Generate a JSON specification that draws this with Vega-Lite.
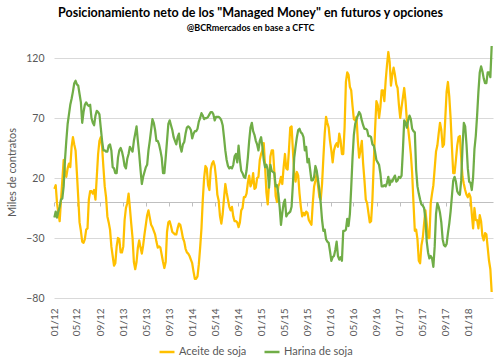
{
"$schema": "https://vega.github.io/schema/vega-lite/v6.json",
"width": 439, "height": 252,
"autosize": {"type": "none"},
"padding": {"left": 54, "top": 46, "right": 7, "bottom": 65},
"background": "white",
"title": {"text": "Posicionamiento neto de los \"Managed Money\" en futuros y opciones", "subtitle": "@BCRmercados en base a CFTC", "anchor": "middle", "dx": -23, "font": "Lato", "fontSize": 12.5, "fontWeight": "bold", "color": "#000000", "subtitleFont": "Lato", "subtitleFontSize": 9, "subtitleFontWeight": "bold", "subtitleColor": "#000000", "subtitlePadding": 4, "offset": 12},
"data": {"values": [
{"d":"2012-01-03","a":11,"h":-13},{"d":"2012-01-10","a":14,"h":-8},{"d":"2012-01-17","a":-1,"h":-13},{"d":"2012-01-24","a":-9,"h":-8},{"d":"2012-01-31","a":-16,"h":-4},
{"d":"2012-02-07","a":2,"h":2},{"d":"2012-02-14","a":18,"h":3},{"d":"2012-02-21","a":35,"h":13},{"d":"2012-02-28","a":25,"h":35},
{"d":"2012-03-06","a":21,"h":51},{"d":"2012-03-13","a":28,"h":65},{"d":"2012-03-20","a":32,"h":73},{"d":"2012-03-27","a":29,"h":81},
{"d":"2012-04-03","a":46,"h":86},{"d":"2012-04-10","a":54,"h":92},{"d":"2012-04-17","a":48,"h":99},{"d":"2012-04-24","a":43,"h":101},
{"d":"2012-05-01","a":24,"h":98},{"d":"2012-05-08","a":4,"h":97},{"d":"2012-05-15","a":-17,"h":90},{"d":"2012-05-22","a":-24,"h":83},{"d":"2012-05-29","a":-33,"h":66},
{"d":"2012-06-05","a":-34,"h":75},{"d":"2012-06-12","a":-31,"h":81},{"d":"2012-06-19","a":-23,"h":83},{"d":"2012-06-26","a":-22,"h":81},
{"d":"2012-07-03","a":2,"h":80},{"d":"2012-07-10","a":9,"h":81},{"d":"2012-07-17","a":9,"h":70},{"d":"2012-07-24","a":7,"h":66},{"d":"2012-07-31","a":10,"h":64},
{"d":"2012-08-07","a":2,"h":72},{"d":"2012-08-14","a":21,"h":76},{"d":"2012-08-21","a":40,"h":75},{"d":"2012-08-28","a":51,"h":73},
{"d":"2012-09-04","a":54,"h":62},{"d":"2012-09-11","a":46,"h":51},{"d":"2012-09-18","a":29,"h":43},{"d":"2012-09-25","a":13,"h":43},
{"d":"2012-10-02","a":4,"h":42},{"d":"2012-10-09","a":-12,"h":42},{"d":"2012-10-16","a":-17,"h":47},{"d":"2012-10-23","a":-23,"h":48},{"d":"2012-10-30","a":-37,"h":43},
{"d":"2012-11-06","a":-45,"h":29},{"d":"2012-11-13","a":-53,"h":28},{"d":"2012-11-20","a":-51,"h":24},{"d":"2012-11-27","a":-37,"h":24},
{"d":"2012-12-04","a":-30,"h":37},{"d":"2012-12-11","a":-31,"h":43},{"d":"2012-12-18","a":-42,"h":45},{"d":"2012-12-25","a":-42,"h":42},
{"d":"2013-01-01","a":-37,"h":37},{"d":"2013-01-08","a":-15,"h":30},{"d":"2013-01-15","a":-5,"h":28},{"d":"2013-01-22","a":-1,"h":36},{"d":"2013-01-29","a":7,"h":40},
{"d":"2013-02-05","a":-5,"h":46},{"d":"2013-02-12","a":-18,"h":44},{"d":"2013-02-19","a":-30,"h":42},{"d":"2013-02-26","a":-50,"h":51},
{"d":"2013-03-05","a":-56,"h":57},{"d":"2013-03-12","a":-50,"h":63},{"d":"2013-03-19","a":-38,"h":51},{"d":"2013-03-26","a":-32,"h":40},
{"d":"2013-04-02","a":-38,"h":27},{"d":"2013-04-09","a":-43,"h":15},{"d":"2013-04-16","a":-36,"h":21},{"d":"2013-04-23","a":-27,"h":25},{"d":"2013-04-30","a":-19,"h":29},
{"d":"2013-05-07","a":-11,"h":31},{"d":"2013-05-14","a":-7,"h":43},{"d":"2013-05-21","a":-13,"h":51},{"d":"2013-05-28","a":-19,"h":60},
{"d":"2013-06-04","a":-21,"h":69},{"d":"2013-06-11","a":-24,"h":66},{"d":"2013-06-18","a":-27,"h":60},{"d":"2013-06-25","a":-33,"h":51},
{"d":"2013-07-02","a":-38,"h":51},{"d":"2013-07-09","a":-37,"h":48},{"d":"2013-07-16","a":-38,"h":43},{"d":"2013-07-23","a":-44,"h":37},{"d":"2013-07-30","a":-50,"h":24},
{"d":"2013-08-06","a":-55,"h":24},{"d":"2013-08-13","a":-50,"h":37},{"d":"2013-08-20","a":-25,"h":51},{"d":"2013-08-27","a":-17,"h":65},
{"d":"2013-09-03","a":-16,"h":68},{"d":"2013-09-10","a":-20,"h":64},{"d":"2013-09-17","a":-25,"h":60},{"d":"2013-09-24","a":-26,"h":54},
{"d":"2013-10-01","a":-27,"h":51},{"d":"2013-10-08","a":-27,"h":48},{"d":"2013-10-15","a":-22,"h":54},{"d":"2013-10-22","a":-18,"h":57},{"d":"2013-10-29","a":-19,"h":46},
{"d":"2013-11-05","a":-24,"h":42},{"d":"2013-11-12","a":-30,"h":48},{"d":"2013-11-19","a":-33,"h":50},{"d":"2013-11-26","a":-39,"h":57},
{"d":"2013-12-03","a":-42,"h":62},{"d":"2013-12-10","a":-43,"h":63},{"d":"2013-12-17","a":-45,"h":62},{"d":"2013-12-24","a":-48,"h":60},{"d":"2013-12-31","a":-51,"h":53},
{"d":"2014-01-07","a":-58,"h":57},{"d":"2014-01-14","a":-64,"h":59},{"d":"2014-01-21","a":-64,"h":59},{"d":"2014-01-28","a":-62,"h":61},
{"d":"2014-02-04","a":-52,"h":67},{"d":"2014-02-11","a":-38,"h":70},{"d":"2014-02-18","a":-22,"h":74},{"d":"2014-02-25","a":2,"h":72},
{"d":"2014-03-04","a":20,"h":69},{"d":"2014-03-11","a":30,"h":70},{"d":"2014-03-18","a":28,"h":70},{"d":"2014-03-25","a":14,"h":71},
{"d":"2014-04-01","a":10,"h":73},{"d":"2014-04-08","a":27,"h":75},{"d":"2014-04-15","a":32,"h":75},{"d":"2014-04-22","a":34,"h":73},{"d":"2014-04-29","a":30,"h":68},
{"d":"2014-05-06","a":20,"h":71},{"d":"2014-05-13","a":6,"h":71},{"d":"2014-05-20","a":1,"h":71},{"d":"2014-05-27","a":-12,"h":70},
{"d":"2014-06-03","a":-18,"h":68},{"d":"2014-06-10","a":-10,"h":64},{"d":"2014-06-17","a":3,"h":54},{"d":"2014-06-24","a":15,"h":43},
{"d":"2014-07-01","a":8,"h":35},{"d":"2014-07-08","a":2,"h":30},{"d":"2014-07-15","a":-4,"h":28},{"d":"2014-07-22","a":-7,"h":29},{"d":"2014-07-29","a":-4,"h":28},
{"d":"2014-08-05","a":-12,"h":31},{"d":"2014-08-12","a":-16,"h":38},{"d":"2014-08-19","a":-16,"h":40},{"d":"2014-08-26","a":-17,"h":33},
{"d":"2014-09-02","a":-21,"h":47},{"d":"2014-09-09","a":-17,"h":35},{"d":"2014-09-16","a":-7,"h":26},{"d":"2014-09-23","a":-5,"h":24},{"d":"2014-09-30","a":4,"h":21},
{"d":"2014-10-07","a":4,"h":20},{"d":"2014-10-14","a":7,"h":26},{"d":"2014-10-21","a":16,"h":37},{"d":"2014-10-28","a":22,"h":51},
{"d":"2014-11-04","a":13,"h":62},{"d":"2014-11-11","a":16,"h":66},{"d":"2014-11-18","a":24,"h":59},{"d":"2014-11-25","a":11,"h":56},
{"d":"2014-12-02","a":12,"h":51},{"d":"2014-12-09","a":20,"h":48},{"d":"2014-12-16","a":21,"h":43},{"d":"2014-12-23","a":35,"h":51},{"d":"2014-12-30","a":40,"h":54},
{"d":"2015-01-06","a":43,"h":46},{"d":"2015-01-13","a":49,"h":35},{"d":"2015-01-20","a":30,"h":29},{"d":"2015-01-27","a":8,"h":31},
{"d":"2015-02-03","a":-2,"h":27},{"d":"2015-02-10","a":15,"h":12},{"d":"2015-02-17","a":38,"h":31},{"d":"2015-02-24","a":43,"h":26},
{"d":"2015-03-03","a":43,"h":25},{"d":"2015-03-10","a":25,"h":24},{"d":"2015-03-17","a":5,"h":13},{"d":"2015-03-24","a":0,"h":14},{"d":"2015-03-31","a":13,"h":7},
{"d":"2015-04-07","a":16,"h":-4},{"d":"2015-04-14","a":21,"h":-19},{"d":"2015-04-21","a":15,"h":-9},{"d":"2015-04-28","a":29,"h":-1},
{"d":"2015-05-05","a":40,"h":2},{"d":"2015-05-12","a":28,"h":-12},{"d":"2015-05-19","a":27,"h":-10},{"d":"2015-05-26","a":43,"h":-9},
{"d":"2015-06-02","a":62,"h":-8},{"d":"2015-06-09","a":63,"h":-4},{"d":"2015-06-16","a":43,"h":15},{"d":"2015-06-23","a":24,"h":37},{"d":"2015-06-30","a":17,"h":46},
{"d":"2015-07-07","a":25,"h":54},{"d":"2015-07-14","a":22,"h":60},{"d":"2015-07-21","a":7,"h":61},{"d":"2015-07-28","a":-4,"h":58},
{"d":"2015-08-04","a":-12,"h":57},{"d":"2015-08-11","a":-9,"h":54},{"d":"2015-08-18","a":-11,"h":43},{"d":"2015-08-25","a":-8,"h":46},
{"d":"2015-09-01","a":-9,"h":33},{"d":"2015-09-08","a":-15,"h":36},{"d":"2015-09-15","a":-17,"h":27},{"d":"2015-09-22","a":-19,"h":18},{"d":"2015-09-29","a":-1,"h":18},
{"d":"2015-10-06","a":13,"h":21},{"d":"2015-10-13","a":18,"h":30},{"d":"2015-10-20","a":24,"h":26},{"d":"2015-10-27","a":13,"h":18},
{"d":"2015-11-03","a":4,"h":10},{"d":"2015-11-10","a":2,"h":-1},{"d":"2015-11-17","a":15,"h":-15},{"d":"2015-11-24","a":37,"h":-24},
{"d":"2015-12-01","a":57,"h":-23},{"d":"2015-12-08","a":71,"h":-31},{"d":"2015-12-15","a":66,"h":-33},{"d":"2015-12-22","a":62,"h":-34},{"d":"2015-12-29","a":51,"h":-41},
{"d":"2016-01-05","a":43,"h":-49},{"d":"2016-01-12","a":33,"h":-46},{"d":"2016-01-19","a":43,"h":-45},{"d":"2016-01-26","a":47,"h":-40},
{"d":"2016-02-02","a":49,"h":-33},{"d":"2016-02-09","a":46,"h":-45},{"d":"2016-02-16","a":57,"h":-48},{"d":"2016-02-23","a":51,"h":-46},
{"d":"2016-03-01","a":40,"h":-49},{"d":"2016-03-08","a":40,"h":-24},{"d":"2016-03-15","a":62,"h":-24},{"d":"2016-03-22","a":100,"h":-23},{"d":"2016-03-29","a":108,"h":-14},
{"d":"2016-04-05","a":106,"h":-20},{"d":"2016-04-12","a":96,"h":-10},{"d":"2016-04-19","a":93,"h":12},{"d":"2016-04-26","a":80,"h":37},
{"d":"2016-05-03","a":69,"h":56},{"d":"2016-05-10","a":68,"h":65},{"d":"2016-05-17","a":71,"h":69},{"d":"2016-05-24","a":51,"h":72},{"d":"2016-05-31","a":37,"h":75},
{"d":"2016-06-07","a":43,"h":73},{"d":"2016-06-14","a":51,"h":68},{"d":"2016-06-21","a":32,"h":64},{"d":"2016-06-28","a":18,"h":61},
{"d":"2016-07-05","a":2,"h":61},{"d":"2016-07-12","a":-1,"h":60},{"d":"2016-07-19","a":-9,"h":55},{"d":"2016-07-26","a":-17,"h":55},
{"d":"2016-08-02","a":-16,"h":54},{"d":"2016-08-09","a":2,"h":48},{"d":"2016-08-16","a":32,"h":47},{"d":"2016-08-23","a":60,"h":42},{"d":"2016-08-30","a":84,"h":35},
{"d":"2016-09-06","a":81,"h":33},{"d":"2016-09-13","a":70,"h":31},{"d":"2016-09-20","a":79,"h":24},{"d":"2016-09-27","a":93,"h":13},
{"d":"2016-10-04","a":93,"h":13},{"d":"2016-10-11","a":84,"h":14},{"d":"2016-10-18","a":101,"h":13},{"d":"2016-10-25","a":114,"h":16},
{"d":"2016-11-01","a":125,"h":21},{"d":"2016-11-08","a":117,"h":14},{"d":"2016-11-15","a":97,"h":18},{"d":"2016-11-22","a":106,"h":17},{"d":"2016-11-29","a":112,"h":20},
{"d":"2016-12-06","a":106,"h":22},{"d":"2016-12-13","a":98,"h":17},{"d":"2016-12-20","a":95,"h":18},{"d":"2016-12-27","a":81,"h":21},
{"d":"2017-01-03","a":70,"h":20},{"d":"2017-01-10","a":79,"h":22},{"d":"2017-01-17","a":87,"h":43},{"d":"2017-01-24","a":95,"h":68},{"d":"2017-01-31","a":84,"h":66},
{"d":"2017-02-07","a":68,"h":62},{"d":"2017-02-14","a":61,"h":68},{"d":"2017-02-21","a":51,"h":72},{"d":"2017-02-28","a":40,"h":69},
{"d":"2017-03-07","a":24,"h":61},{"d":"2017-03-14","a":-1,"h":59},{"d":"2017-03-21","a":-24,"h":58},{"d":"2017-03-28","a":-23,"h":27},
{"d":"2017-04-04","a":-31,"h":13},{"d":"2017-04-11","a":-49,"h":7},{"d":"2017-04-18","a":-51,"h":2},{"d":"2017-04-25","a":-36,"h":-2},
{"d":"2017-05-02","a":-30,"h":-3},{"d":"2017-05-09","a":-18,"h":-5},{"d":"2017-05-16","a":-7,"h":-14},{"d":"2017-05-23","a":-18,"h":-33},{"d":"2017-05-30","a":-30,"h":-42},
{"d":"2017-06-06","a":-30,"h":-47},{"d":"2017-06-13","a":-1,"h":-45},{"d":"2017-06-20","a":7,"h":-47},{"d":"2017-06-27","a":14,"h":-54},
{"d":"2017-07-04","a":28,"h":-37},{"d":"2017-07-11","a":42,"h":-10},{"d":"2017-07-18","a":47,"h":-1},{"d":"2017-07-25","a":57,"h":-4},
{"d":"2017-08-01","a":66,"h":-9},{"d":"2017-08-08","a":60,"h":-17},{"d":"2017-08-15","a":46,"h":-31},{"d":"2017-08-22","a":48,"h":-36},{"d":"2017-08-29","a":70,"h":-37},
{"d":"2017-09-05","a":92,"h":-35},{"d":"2017-09-12","a":100,"h":-26},{"d":"2017-09-19","a":88,"h":-18},{"d":"2017-09-26","a":70,"h":-8},
{"d":"2017-10-03","a":46,"h":5},{"d":"2017-10-10","a":24,"h":18},{"d":"2017-10-17","a":24,"h":21},{"d":"2017-10-24","a":35,"h":17},{"d":"2017-10-31","a":47,"h":9},
{"d":"2017-11-07","a":54,"h":7},{"d":"2017-11-14","a":55,"h":6},{"d":"2017-11-21","a":37,"h":18},{"d":"2017-11-28","a":21,"h":46},
{"d":"2017-12-05","a":15,"h":66},{"d":"2017-12-12","a":10,"h":63},{"d":"2017-12-19","a":6,"h":48},{"d":"2017-12-26","a":4,"h":28},
{"d":"2018-01-02","a":7,"h":17},{"d":"2018-01-09","a":4,"h":16},{"d":"2018-01-16","a":-10,"h":10},{"d":"2018-01-23","a":-22,"h":21},{"d":"2018-01-30","a":-5,"h":44},
{"d":"2018-02-06","a":-15,"h":55},{"d":"2018-02-13","a":-15,"h":72},{"d":"2018-02-20","a":-22,"h":92},{"d":"2018-02-27","a":-11,"h":108},
{"d":"2018-03-06","a":-16,"h":113},{"d":"2018-03-13","a":-28,"h":109},{"d":"2018-03-20","a":-32,"h":103},{"d":"2018-03-27","a":-26,"h":99},
{"d":"2018-04-03","a":-27,"h":99},{"d":"2018-04-10","a":-38,"h":108},{"d":"2018-04-17","a":-49,"h":108},{"d":"2018-04-24","a":-56,"h":104},
{"d":"2018-05-01","a":-75,"h":130}
]},
"transform": [{"fold": ["a", "h"], "as": ["serie", "valor"]}],
"mark": {"type": "line", "strokeWidth": 2.25, "strokeJoin": "round"},
"encoding": {
  "x": {"field": "d", "type": "temporal",
    "scale": {"type": "utc", "domain": [{"year": 2012, "month": 1, "date": 1, "utc": true}, {"year": 2018, "month": 5, "date": 8, "utc": true}]},
    "axis": {"title": null, "grid": false,
      "values": [
        {"year": 2012, "month": 1, "date": 1, "utc": true}, {"year": 2012, "month": 5, "date": 1, "utc": true}, {"year": 2012, "month": 9, "date": 1, "utc": true},
        {"year": 2013, "month": 1, "date": 1, "utc": true}, {"year": 2013, "month": 5, "date": 1, "utc": true}, {"year": 2013, "month": 9, "date": 1, "utc": true},
        {"year": 2014, "month": 1, "date": 1, "utc": true}, {"year": 2014, "month": 5, "date": 1, "utc": true}, {"year": 2014, "month": 9, "date": 1, "utc": true},
        {"year": 2015, "month": 1, "date": 1, "utc": true}, {"year": 2015, "month": 5, "date": 1, "utc": true}, {"year": 2015, "month": 9, "date": 1, "utc": true},
        {"year": 2016, "month": 1, "date": 1, "utc": true}, {"year": 2016, "month": 5, "date": 1, "utc": true}, {"year": 2016, "month": 9, "date": 1, "utc": true},
        {"year": 2017, "month": 1, "date": 1, "utc": true}, {"year": 2017, "month": 5, "date": 1, "utc": true}, {"year": 2017, "month": 9, "date": 1, "utc": true},
        {"year": 2018, "month": 1, "date": 1, "utc": true}],
      "labelExpr": "utcFormat(datum.value, '%m/%y')", "labelAngle": -90, "labelFlush": false, "labelOverlap": false, "offset": -96, "labelPadding": 102, "tickSize": 4, "tickColor": "#BFBFBF", "domainColor": "#BFBFBF", "labelColor": "#595959", "labelFont": "Lato", "labelFontSize": 10}},
  "y": {"field": "valor", "type": "quantitative",
    "scale": {"domain": [-80, 130], "nice": false, "zero": false},
    "axis": {"title": "Miles de contratos", "values": [-80, -30, 20, 70, 120], "grid": true, "gridColor": "#D9D9D9", "domain": false, "ticks": false, "labelPadding": 10, "labelColor": "#595959", "labelFont": "Lato", "labelFontSize": 10.5, "titleColor": "#595959", "titleFont": "Lato", "titleFontSize": 11, "titleFontWeight": "normal", "titlePadding": 8}},
  "color": {"field": "serie", "type": "nominal",
    "scale": {"domain": ["a", "h"], "range": ["#FFC000", "#70AD47"]},
    "legend": {"title": null, "orient": "none", "legendX": 104, "legendY": 297, "direction": "horizontal", "symbolType": "stroke", "symbolSize": 225, "symbolStrokeWidth": 2.5, "labelOffset": 3, "labelFont": "Lato", "labelFontSize": 11, "labelColor": "#595959", "labelExpr": "datum.label == 'a' ? 'Aceite de soja' : 'Harina de soja'", "columnPadding": 12}}
},
"config": {"view": {"stroke": null}}
}
